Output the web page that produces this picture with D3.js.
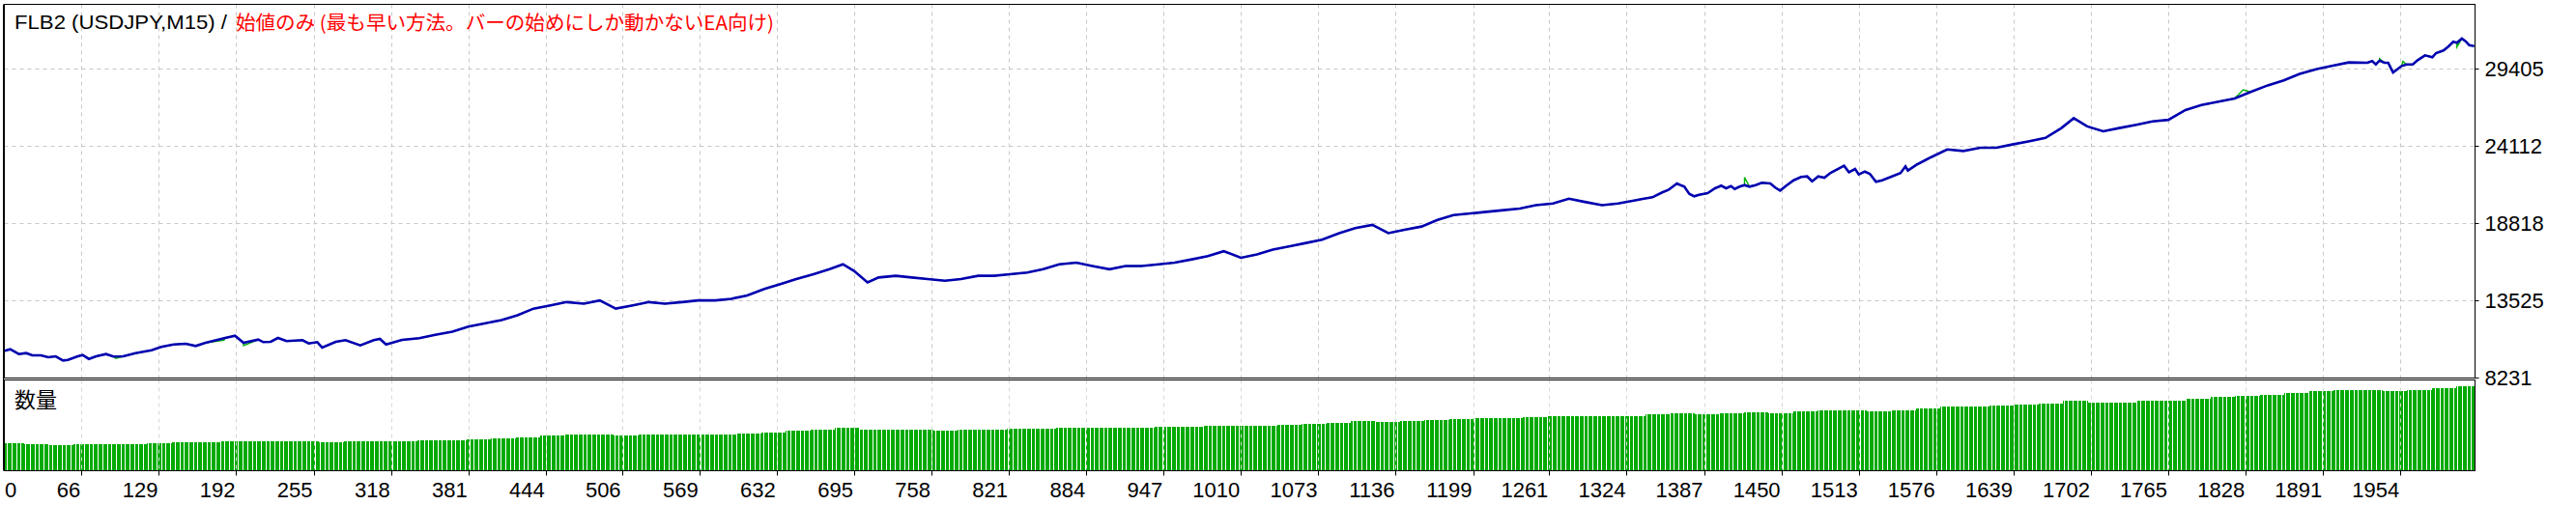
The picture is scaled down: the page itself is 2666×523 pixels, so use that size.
<!DOCTYPE html>
<html><head><meta charset="utf-8">
<script src="https://cdn.jsdelivr.net/npm/d3@7"></script>
<style>body{margin:0;background:#fff}svg{display:block}</style>
</head><body>
<script>
// ---- data ----
const xTickLabels = [0,66,129,192,255,318,381,444,506,569,632,695,758,821,884,947,1010,1073,1136,1199,1261,1324,1387,1450,1513,1576,1639,1702,1765,1828,1891,1954];
const yTickLabels = [8231,13525,18818,24112,29405];
const trades = [3,8,15,21,26,33,39,45,51,55,63,67,72,78,86,92,100,110,123,131,141,151,159,167,183,191,198,210,214,220,226,233,246,251,258,262,273,281,293,304,309,314,
327,341,354,368,381,394,408,421,434,448,461,475,488,501,515,528,541,555,568,582,595,608,622,635,648,662,675,686,695,706,715,729,742,755,769,782,796,809,822,836,849,862,876,889,903,916,929,943,956,970,983,996,1010,1023,1036,1050,1063,1076,1090,1103,1117,1130,1143,1157,1170,1183,1197,1210,1224,1237,1250,1264,1277,1290,1304,1317,1331,
1337,1345,1353,1358,1365,1369,1371,1375,1379,1383,1390,1396,1401,1405,1409,1412,1416,1420,1424,1429,1434,1441,1445,1449,1454,1460,1466,1471,1475,1480,1485,1490,1497,1501,1505,1510,1513,1518,1522,1527,1532,1539,1547,1551,1553,1560,1567,1572,
1585,1598,1612,1625,1638,1652,1665,1678,1688,1699,1712,1725,1739,1752,1765,1779,1792,1805,1819,1832,1846,1859,1872,1886,1899,1912,
1927,1931,1934,1937,1941,1944,1948,1951,1955,1959,1964,1968,1974,1980,1983,1989,1993,1997,2000,2004,2007,2010,2014];
const balance = [10050,10170,9839,9905,9753,9753,9621,9687,9402,9442,9687,9773,9508,9687,9839,9667,9687,9905,10104,10329,10501,10547,10395,10613,10944,11096,10613,10832,10659,10679,10944,10726,10792,10567,10659,10282,10679,10792,10434,10792,10878,10501,
10815,10928,11153,11378,11715,11940,12165,12503,12953,13178,13403,13290,13515,12953,13178,13403,13290,13403,13515,13515,13628,13853,14303,14640,14978,15315,15653,15990,15540,14753,15090,15203,15090,14978,14865,14978,15203,15203,15315,15428,15653,15990,16103,15878,15653,15878,15878,15990,16103,16328,16553,16890,16440,16665,17003,17228,17453,17678,18128,18465,18690,18128,18353,18578,19028,19365,19478,19590,19703,19815,20040,20153,20490,20265,20040,20153,20378,
20472,20584,20915,21087,21530,21378,21312,20823,20650,20756,20869,21200,21378,21200,21352,21153,21312,21418,21312,21418,21577,21530,21246,21047,21378,21749,21973,22013,21683,22013,21927,22258,22569,22741,22304,22523,22146,22345,22193,21644,21749,21973,22244,22702,22411,22808,23119,23337,
23866,23753,23978,23978,24203,24428,24653,25328,26003,25440,25103,25328,25553,25778,25890,26565,26903,27128,27353,27803,28253,28590,29040,29378,29603,29828,
29802,29915,29690,29954,29802,29802,29140,29319,29584,29690,29690,29981,30311,30179,30464,30642,30907,31238,31172,31456,31278,31013,30947];
const equitySpikes = [[94,9540],[182,10780],[198,10420],[1420,21950],[1826,27950],[1937,30080],[1956,29900],[2000,30880]];
// lots per block of 20 trades
const lotBlock = 20;
const lots = [0.30,0.29,0.28,0.29,0.29,0.29,0.30,0.31,0.31,0.32,0.32,0.32,0.32,0.31,0.32,0.32,0.32,0.33,0.34,0.35,
0.36,0.37,0.39,0.40,0.40,0.39,0.40,0.40,0.40,0.40,0.41,0.42,0.44,0.45,0.47,0.45,0.45,0.45,0.44,0.45,
0.45,0.46,0.46,0.47,0.47,0.47,0.47,0.48,0.48,0.50,0.49,0.49,0.51,0.52,0.53,0.55,0.54,0.55,0.56,0.57,
0.58,0.58,0.59,0.60,0.60,0.60,0.60,0.62,0.63,0.62,0.63,0.64,0.63,0.65,0.66,0.67,0.65,0.67,0.69,0.71,
0.71,0.72,0.73,0.74,0.77,0.75,0.75,0.77,0.77,0.79,0.81,0.82,0.84,0.86,0.88,0.89,0.89,0.88,0.89,0.91,0.93];
const titleBlack = "FLB2 (USDJPY,M15) /";
const titleRed = "始値のみ (最も早い方法。バーの始めにしか動かないEA向け)";
const volumeLabel = "数量";

// ---- layout ----
const W = 2666, H = 523;
const L = 4.5, R = 2561.5, T = 4.5, MB = 391.5, VT = 393.5, VB = 487.5;
const latin = "'Liberation Sans', Arial, sans-serif";
const cjk = "'Noto Sans CJK JP', 'Noto Sans CJK SC', sans-serif";

const svg = d3.select("body").append("svg").attr("width", W).attr("height", H);

const x = d3.scaleLinear().domain([66, 1954]).range([84.3, 2484.3]);
const y = d3.scaleLinear().domain([8231, 29405]).range([391, 71]);
const vy = d3.scaleLinear().domain([0, 1]).range([VB, VT]);

const defs = svg.append("defs");
defs.append("clipPath").attr("id","mainClip").append("rect").attr("x",L).attr("y",T).attr("width",R-L).attr("height",MB-T);
defs.append("clipPath").attr("id","volClip").append("rect").attr("x",L+0.5).attr("y",VT).attr("width",R-L-1).attr("height",VB-VT);

// volume bars: one 1-px bar per trade
const nTrades = d3.max(trades);
const barData = d3.range(0, nTrades + 1).map(t => ({t, lot: lots[Math.min(lots.length-1, Math.floor(t / lotBlock))]}));
svg.append("g").attr("clip-path","url(#volClip)").attr("shape-rendering","crispEdges")
  .selectAll("rect").data(barData).join("rect")
  .attr("x", d => Math.floor(x(d.t)))
  .attr("width", 1)
  .attr("y", d => Math.round(vy(d.lot)))
  .attr("height", d => VB - Math.round(vy(d.lot)))
  .attr("fill", "#00aa00");

// grid
const gridStyle = g => g.attr("stroke","#c8c8c8").attr("stroke-width",1).attr("stroke-dasharray","4,4");
const vTicks = xTickLabels.filter(v => v > 0);
svg.append("g").call(gridStyle).selectAll("line").data(vTicks).join("line")
  .attr("x1", d => Math.round(x(d)) + 0.5).attr("x2", d => Math.round(x(d)) + 0.5)
  .attr("y1", T).attr("y2", MB);
svg.append("g").call(gridStyle).attr("stroke","#d0dcd0").selectAll("line").data(vTicks).join("line")
  .attr("x1", d => Math.round(x(d)) + 0.5).attr("x2", d => Math.round(x(d)) + 0.5)
  .attr("y1", VT).attr("y2", VB);
svg.append("g").call(gridStyle).selectAll("line").data(yTickLabels.slice(1)).join("line")
  .attr("x1", L).attr("x2", R)
  .attr("y1", d => Math.round(y(d)) + 0.5).attr("y2", d => Math.round(y(d)) + 0.5);

// lines
const pts = trades.map((t,i) => [t, balance[i]]);
const eqPts = pts.concat(equitySpikes).sort((a,b) => a[0]-b[0]);
const line = d3.line().x(d => x(d[0])).y(d => y(d[1]));
const gLines = svg.append("g").attr("clip-path","url(#mainClip)");
gLines.append("path").attr("d", line(eqPts)).attr("fill","none").attr("stroke","#00b000").attr("stroke-width",1.4);
gLines.append("path").attr("d", line(pts)).attr("fill","none").attr("stroke","#0000b0").attr("stroke-width",2.6).attr("stroke-linejoin","miter");

// frames
const frame = svg.append("g").attr("fill","none").attr("stroke","#000").attr("stroke-width",1);
frame.append("rect").attr("x",L).attr("y",T).attr("width",R-L).attr("height",MB-T);
frame.append("line").attr("x1",L-1).attr("x2",L-1).attr("y1",T).attr("y2",VB);
frame.append("rect").attr("x",L).attr("y",VT).attr("width",R-L).attr("height",VB-VT);

// y axis ticks and labels
const yAxis = svg.append("g");
yAxis.selectAll("line").data(yTickLabels).join("line")
  .attr("x1", R).attr("x2", R + 4)
  .attr("y1", d => Math.round(y(d)) + 0.5).attr("y2", d => Math.round(y(d)) + 0.5)
  .attr("stroke","#000");
yAxis.selectAll("text").data(yTickLabels).join("text")
  .attr("x", R + 10).attr("y", d => y(d) + 8)
  .attr("font-family", latin).attr("font-size", 22).attr("fill","#000")
  .text(d => d);

// x axis ticks and labels
const xAxis = svg.append("g");
xAxis.selectAll("line").data(vTicks).join("line")
  .attr("x1", d => Math.round(x(d)) + 0.5).attr("x2", d => Math.round(x(d)) + 0.5)
  .attr("y1", VB).attr("y2", VB + 5).attr("stroke","#000");
xAxis.selectAll("text").data(xTickLabels).join("text")
  .attr("x", d => d === 0 ? L + 0.5 : x(d) - 1)
  .attr("y", 515)
  .attr("text-anchor", d => d === 0 ? "start" : "end")
  .attr("font-family", latin).attr("font-size", 22).attr("fill","#000")
  .text(d => d);

// titles
svg.append("text").attr("x", 15).attr("y", 30).attr("font-family", latin).attr("font-size", 21)
  .attr("fill","#000").attr("textLength", 220).attr("lengthAdjust","spacingAndGlyphs").text(titleBlack);
svg.append("text").attr("x", 244).attr("y", 31).attr("font-family", cjk).attr("font-size", 20)
  .attr("fill","#ff0000").attr("textLength", 557).attr("lengthAdjust","spacingAndGlyphs").text(titleRed);
svg.append("text").attr("x", 15).attr("y", 421.5).attr("font-family", cjk).attr("font-size", 22)
  .attr("fill","#000").text(volumeLabel);
</script>
</body></html>
